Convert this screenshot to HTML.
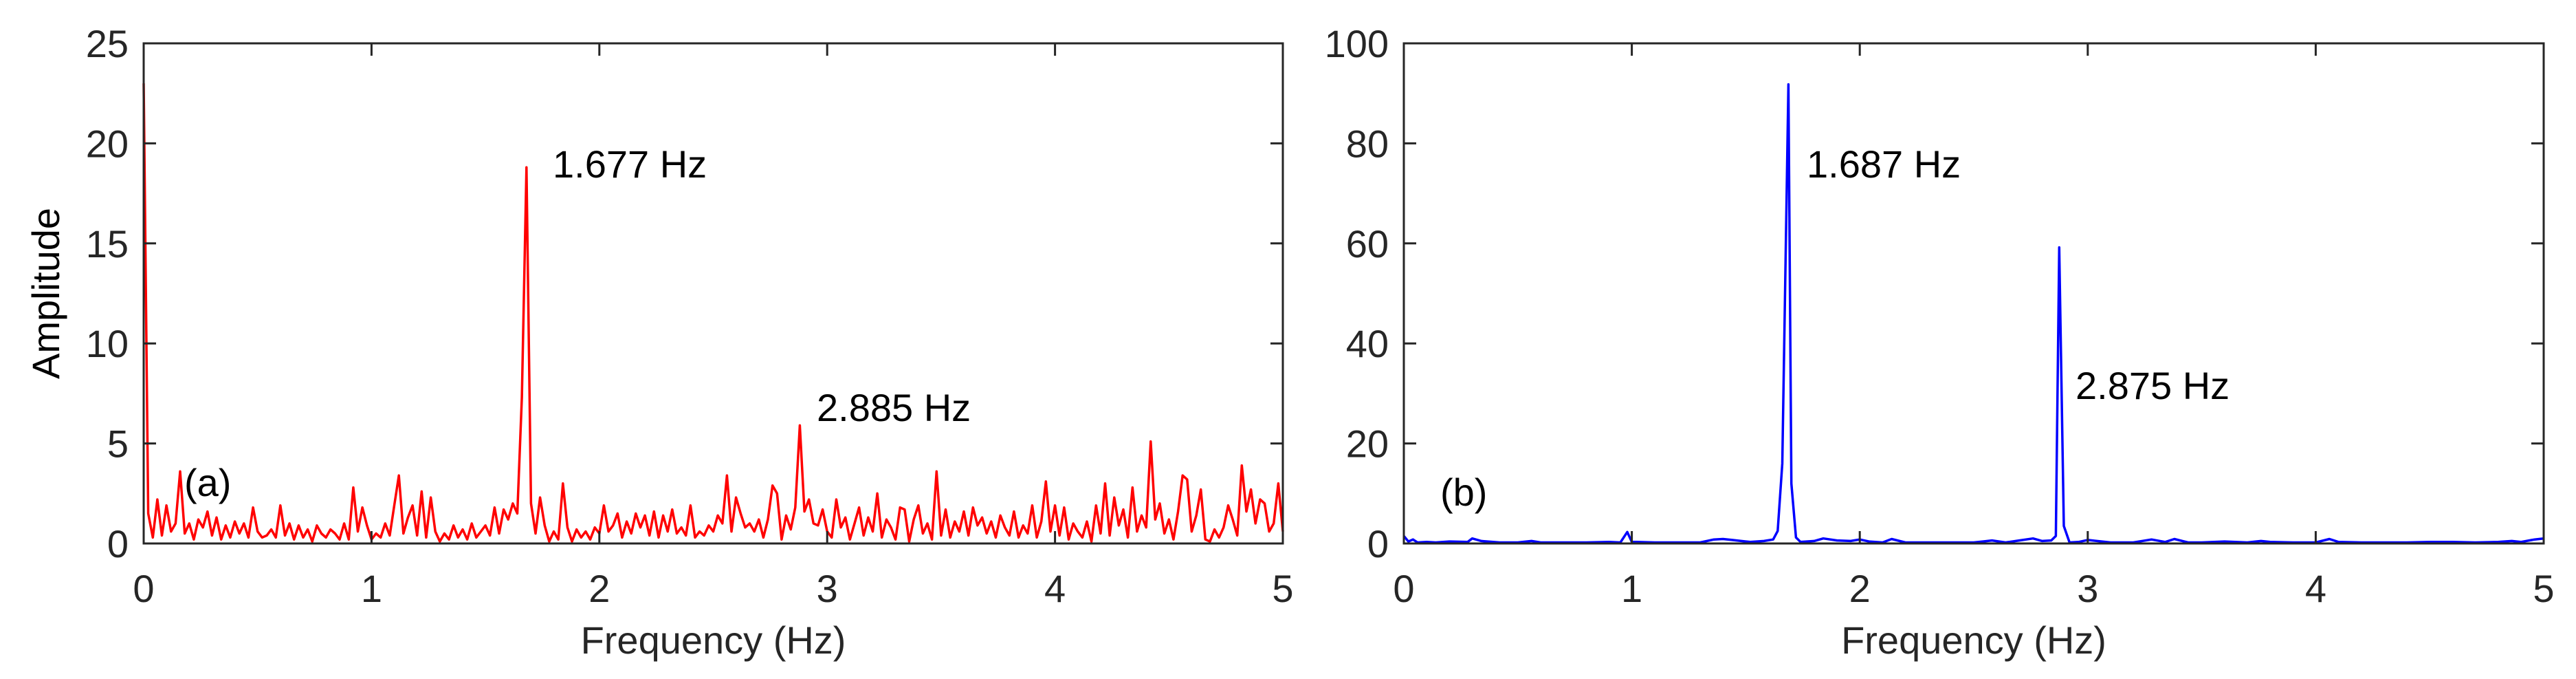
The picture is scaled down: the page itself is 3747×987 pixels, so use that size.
<!DOCTYPE html>
<html><head><meta charset="utf-8">
<style>
html,body{margin:0;padding:0;background:#fff;}
svg{display:block;font-family:"Liberation Sans",Arial,sans-serif;}
</style></head>
<body>
<svg id="fig" width="3747" height="987" viewBox="0 0 3747 987" xmlns="http://www.w3.org/2000/svg">
<g id="pa"></g>
<g id="pb"></g>
</svg>
<script>
const aAmps = [23,1.5,0.3,2.2,0.4,1.9,0.6,1.0,3.6,0.5,1.0,0.2,1.2,0.8,1.6,0.4,1.3,0.2,0.9,0.3,1.1,0.5,1.0,0.3,1.8,0.6,0.3,0.4,0.7,0.3,1.9,0.4,1.0,0.2,0.9,0.3,0.7,0.1,0.9,0.5,0.3,0.7,0.5,0.2,1.0,0.2,2.8,0.6,1.8,0.9,0.2,0.5,0.3,1.0,0.4,1.9,3.4,0.5,1.3,1.9,0.4,2.6,0.3,2.3,0.6,0.1,0.5,0.2,0.9,0.3,0.7,0.2,1.0,0.3,0.6,0.9,0.4,1.8,0.5,1.7,1.2,2.0,1.5,7.3,18.8,2.0,0.5,2.3,0.9,0.1,0.6,0.2,3.0,0.8,0.1,0.7,0.3,0.6,0.2,0.8,0.5,1.9,0.6,0.9,1.5,0.3,1.1,0.5,1.5,0.8,1.4,0.4,1.6,0.3,1.4,0.6,1.7,0.5,0.8,0.4,1.9,0.3,0.6,0.4,0.9,0.6,1.4,1.0,3.4,0.6,2.3,1.5,0.8,1.0,0.6,1.2,0.3,1.2,2.9,2.5,0.2,1.4,0.7,1.8,5.9,1.6,2.2,1.0,0.9,1.7,0.6,0.3,2.2,0.8,1.3,0.2,1.0,1.8,0.4,1.3,0.6,2.5,0.3,1.2,0.8,0.2,1.8,1.7,0.1,1.2,1.9,0.5,1.0,0.2,3.6,0.4,1.7,0.3,1.1,0.6,1.6,0.4,1.8,0.9,1.3,0.5,1.1,0.3,1.4,0.8,0.4,1.6,0.3,0.9,0.5,1.9,0.3,1.1,3.1,0.6,1.9,0.4,1.8,0.2,1.0,0.6,0.3,1.1,0.1,1.9,0.5,3.0,0.4,2.3,0.9,1.7,0.3,2.8,0.6,1.4,0.8,5.1,1.2,2.0,0.5,1.2,0.2,1.6,3.4,3.2,0.6,1.4,2.7,0.2,0.1,0.7,0.3,0.8,1.9,1.2,0.4,3.9,1.6,2.7,1.0,2.2,2.0,0.6,1.0,3.0,0.6];
const aStep = 0.02;
const bFreqs = [0,0.02,0.04,0.06,0.1,0.14,0.2,0.28,0.3,0.34,0.42,0.5,0.56,0.6,0.7,0.8,0.9,0.95,0.98,1.0,1.02,1.1,1.2,1.3,1.36,1.4,1.44,1.48,1.52,1.58,1.62,1.64,1.66,1.687,1.70,1.72,1.74,1.8,1.84,1.9,1.96,2.0,2.04,2.1,2.14,2.2,2.3,2.4,2.5,2.54,2.58,2.64,2.7,2.76,2.8,2.84,2.86,2.875,2.895,2.92,2.96,3.0,3.1,3.2,3.28,3.34,3.38,3.44,3.5,3.6,3.7,3.76,3.8,3.9,4.0,4.06,4.1,4.2,4.3,4.4,4.5,4.6,4.7,4.8,4.86,4.9,4.96,5.0];
const bAmps  = [1.5,0.4,0.8,0.2,0.3,0.2,0.4,0.3,1.0,0.5,0.2,0.2,0.5,0.2,0.2,0.2,0.3,0.2,2.3,0.3,0.3,0.2,0.2,0.2,0.8,0.9,0.7,0.5,0.3,0.5,0.8,2.5,16,91.8,12,1.2,0.3,0.5,1.0,0.6,0.5,0.8,0.4,0.2,0.9,0.2,0.2,0.2,0.2,0.4,0.6,0.2,0.6,1.0,0.5,0.6,1.5,59.2,3.5,0.2,0.3,0.7,0.2,0.2,0.8,0.3,0.9,0.2,0.2,0.4,0.2,0.5,0.3,0.2,0.2,0.9,0.3,0.2,0.2,0.2,0.3,0.3,0.2,0.3,0.5,0.3,0.8,1.0];
const xTicks = [0,1,2,3,4,5];
const aYTicks = [0,5,10,15,20,25];
const bYTicks = [0,20,40,60,80,100];

const NS='http://www.w3.org/2000/svg';
function mk(parent, tag, attrs){const e=document.createElementNS(NS,tag);for(const k in attrs)e.setAttribute(k,attrs[k]);parent.appendChild(e);return e;}
const FS=56;
function panel(g, L, R, T, B, ymax, yTicks, freqs, amps, color, annots, label, ylab){
  const sx = f => L + (f/5)*(R-L);
  const sy = v => B - (v/ymax)*(B-T);
  const d = freqs.map((f,i)=>(i?'L':'M')+sx(f).toFixed(1)+','+sy(amps[i]).toFixed(1)).join('');
  const line = mk(g,'path',{d:d,fill:'none',stroke:color,'stroke-width':3.5,'stroke-linejoin':'round'});
  
  
  const box = mk(g,'rect',{x:L,y:T,width:R-L,height:B-T,fill:'none',stroke:'#262626','stroke-width':3});
  
  
  xTicks.forEach(t=>{
    const x=sx(t);
    mk(g,'line',{x1:x,y1:B,x2:x,y2:B-18,stroke:'#262626','stroke-width':3});
    mk(g,'line',{x1:x,y1:T,x2:x,y2:T+18,stroke:'#262626','stroke-width':3});
    const tx=mk(g,'text',{x:x,y:875,'text-anchor':'middle','font-size':FS,fill:'#262626'});
    tx.textContent=t;
    
    
  });
  yTicks.forEach(t=>{
    const y=sy(t);
    mk(g,'line',{x1:L,y1:y,x2:L+18,y2:y,stroke:'#262626','stroke-width':3});
    mk(g,'line',{x1:R,y1:y,x2:R-18,y2:y,stroke:'#262626','stroke-width':3});
    const ty=mk(g,'text',{x:L-22,y:y+20,'text-anchor':'end','font-size':FS,fill:'#262626'});
    ty.textContent=t;
    
    
  });
  const xl=mk(g,'text',{x:(L+R)/2,y:950,'text-anchor':'middle','font-size':FS,fill:'#262626'});
  xl.textContent='Frequency (Hz)';
  
  
  if(ylab){
    const yl=mk(g,'text',{x:0,y:0,'text-anchor':'middle','font-size':FS,fill:'#000',transform:'translate(86,'+((T+B)/2)+') rotate(-90)'});
    yl.textContent=ylab;
    
    
  }
  annots.forEach(a=>{
    const t=mk(g,'text',{x:a[0],y:a[1],'font-size':FS,fill:'#000'});
    t.textContent=a[2];
    
    
  });
  const pl=mk(g,'text',{x:label[0],y:label[1],'font-size':FS,fill:'#000'});
  pl.textContent=label[2];
  
  
}
const aFreqs = aAmps.map((_,i)=>i*aStep);
panel(document.getElementById('pa'),209,1866,63,790,25,aYTicks,aFreqs,aAmps,'#ff0000',
  [[804,258,'1.677 Hz'],[1188,612,'2.885 Hz']],[268,721,'(a)'],'Amplitude');
panel(document.getElementById('pb'),2042,3700,63,790,100,bYTicks,bFreqs,bAmps,'#0000ff',
  [[2628,258,'1.687 Hz'],[3019,580,'2.875 Hz']],[2095,735,'(b)'],null);
</script>
</body></html>
